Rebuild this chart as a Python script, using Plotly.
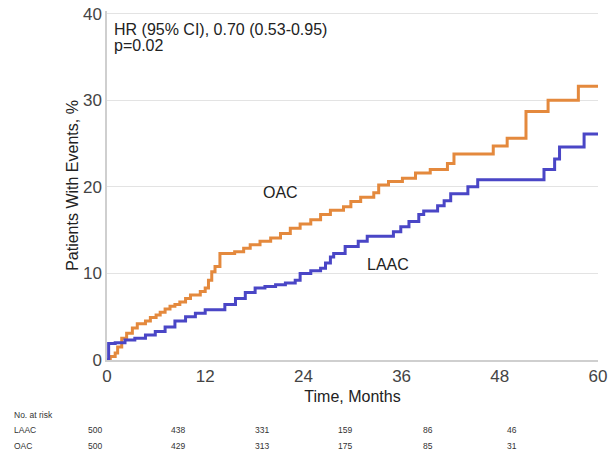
import plotly.graph_objects as go

# ---- data ----
oac_t = [0, 0.4, 1.0, 1.3, 1.8, 2.4, 3.1, 3.7, 4.7, 5.3, 6.0, 6.5, 7.1, 7.7, 8.3, 8.9, 9.6, 10.2,
         11.4, 12.0, 12.4, 12.8, 13.2, 13.8, 15.6, 16.7, 17.5, 18.7, 20.0, 21.2, 22.4, 23.6, 24.9,
         26.1, 27.3, 28.9, 29.8, 31.0, 32.6, 33.2, 34.4, 36.1, 37.7, 39.5, 41.6, 42.4, 47.2, 48.9,
         51.2, 53.9, 57.6, 60]
oac_v = [0, 0.4, 0.8, 1.5, 2.5, 3.1, 3.7, 4.2, 4.5, 4.9, 5.2, 5.5, 5.9, 6.2, 6.4, 6.7, 7.1, 7.5,
         7.9, 8.3, 9.2, 10.2, 10.8, 12.3, 12.5, 12.9, 13.3, 13.7, 14.1, 14.6, 15.2, 15.7, 16.2,
         16.8, 17.3, 17.7, 18.3, 18.8, 19.3, 20.2, 20.6, 21.0, 21.6, 22.0, 22.7, 23.8, 24.7, 25.6,
         28.7, 30.0, 31.6, 31.6]

laac_t = [0, 0.2, 1.0, 2.2, 3.4, 4.7, 5.9, 7.1, 8.3, 9.6, 10.8, 12.0, 14.4, 15.7, 16.9, 18.1,
          19.3, 20.6, 21.8, 23.0, 23.6, 24.9, 26.1, 26.7, 27.3, 27.7, 29.1, 30.7, 31.8, 35.0, 35.9,
          36.9, 38.1, 38.7, 40.4, 41.2, 42.0, 44.1, 45.3, 53.4, 54.7, 55.3, 58.3, 60]
laac_v = [0, 1.9, 2.0, 2.3, 2.5, 2.9, 3.3, 3.8, 4.5, 5.0, 5.4, 5.8, 6.4, 7.1, 7.8, 8.3,
          8.5, 8.7, 8.9, 9.2, 10.0, 10.3, 10.6, 11.2, 11.9, 12.3, 13.1, 13.7, 14.3, 14.8, 15.4,
          16.0, 16.8, 17.2, 17.8, 18.4, 19.2, 20.0, 20.8, 22.0, 23.2, 24.6, 26.1, 26.1]

risk_rows = ["LAAC", "OAC"]
risk_laac = [500, 438, 331, 159, 86, 46]
risk_oac = [500, 429, 313, 175, 85, 31]

x_ticks = [0, 12, 24, 36, 48, 60]
y_ticks = [0, 10, 20, 30, 40]

ORANGE = "#E4893D"
BLUE = "#4A46C6"

fig = go.Figure()
fig.add_trace(go.Scatter(x=oac_t, y=oac_v, mode="lines", line=dict(color=ORANGE, width=3, shape="hv"),
                         name="OAC", showlegend=False))
fig.add_trace(go.Scatter(x=laac_t, y=laac_v, mode="lines", line=dict(color=BLUE, width=3, shape="hv"),
                         name="LAAC", showlegend=False))

W, H = 608, 455
L, R, T, B = 107, 10, 11, 95

fig.update_layout(
    width=W, height=H,
    margin=dict(l=L, r=R, t=T, b=B, autoexpand=False),
    paper_bgcolor="white", plot_bgcolor="white",
    font=dict(family="Liberation Sans, Arial, sans-serif", color="#222"),
    xaxis=dict(range=[0, 60], tickvals=x_ticks, showgrid=False, zeroline=False, automargin=False,
               showline=True, linecolor="#cfcfcf", linewidth=1.5, ticklabeloverflow="allow",
               tickfont=dict(size=17, color="#444"), ticks="",
               title=dict(text="Time, Months", font=dict(size=16, color="#222"), standoff=6)),
    yaxis=dict(range=[0, 40.3], tickvals=y_ticks, showgrid=True, gridcolor="#e3e3e3", gridwidth=1,
               zeroline=False, showline=True, linecolor="#cfcfcf", linewidth=1.5, automargin=False,
               ticklabeloverflow="allow",
               tickfont=dict(size=17, color="#444"), ticks="",
               title=dict(text="Patients With Events, %", font=dict(size=16, color="#222"), standoff=0)),
)

ann = []
ann.append(dict(x=0.01, y=38.2, xref="paper", yref="y", xanchor="left", yanchor="middle",
                text="HR (95% CI), 0.70 (0.53-0.95)", showarrow=False, font=dict(size=16, color="#222")))
ann.append(dict(x=0.01, y=36.3, xref="paper", yref="y", xanchor="left", yanchor="middle",
                text="p=0.02", showarrow=False, font=dict(size=16, color="#222")))
ann.append(dict(x=21.2, y=19.4, xref="x", yref="y", text="OAC", showarrow=False,
                font=dict(size=16, color="#222")))
ann.append(dict(x=34.3, y=11.0, xref="x", yref="y", text="LAAC", showarrow=False,
                font=dict(size=16, color="#222")))

# risk table (window pixel positions converted to paper coordinates)
pw = W - L - R
ph = H - T - B
def px2x(px):
    return (px - L) / pw
def py2y(py):
    return (H - B - py) / ph

TF = dict(size=8.5, color="#333")
ann.append(dict(x=px2x(12), y=py2y(415), xref="paper", yref="paper", xanchor="left", yanchor="middle",
                text="No. at risk", showarrow=False, font=TF))
row_y = [430, 446]
for r, (name, vals) in enumerate(zip(risk_rows, [risk_laac, risk_oac])):
    ann.append(dict(x=px2x(12), y=py2y(row_y[r]), xref="paper", yref="paper", xanchor="left",
                    yanchor="middle", text=name, showarrow=False, font=TF))
    for i, v in enumerate(vals):
        ann.append(dict(x=px2x(95 + i * 83.3), y=py2y(row_y[r]), xref="paper", yref="paper",
                        xanchor="center", yanchor="middle", text=str(v), showarrow=False, font=TF))

fig.update_layout(annotations=ann)
fig.write_html("out.html", config={"displayModeBar": False},
               post_script="document.body.style.margin='0';document.body.style.overflow='hidden';")
